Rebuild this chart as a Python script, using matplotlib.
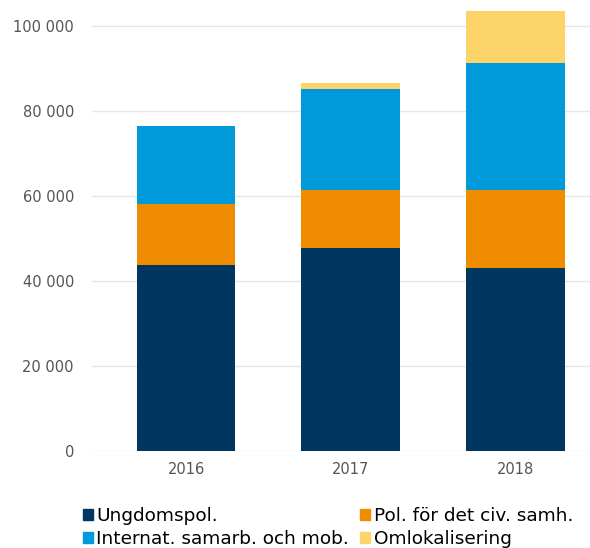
import numpy as np
import matplotlib.pyplot as plt
from matplotlib.patches import Patch

years = ['2016', '2017', '2018']
series_names = ['Ungdomspol.', 'Pol. för det civ. samh.',
                'Internat. samarb. och mob.', 'Omlokalisering']
ungdomspol = [43800, 47800, 43100]
civ_samh = [14300, 13600, 18300]
internat = [18400, 23600, 29700]
omlokalisering = [0, 1400, 12200]
colors = ['#00365f', '#f08c00', '#009ada', '#fdd46a']

fig = plt.figure(figsize=(5.9, 5.48), dpi=100)
ax = fig.add_axes([0.156, 0.177, 0.844, 0.823])

x = np.arange(len(years))
bottom = np.zeros(len(years))
for vals, col in zip([ungdomspol, civ_samh, internat, omlokalisering], colors):
    ax.bar(x, vals, width=0.6, bottom=bottom, color=col, zorder=3)
    bottom += np.array(vals)

ax.set_xlim(-0.57, 2.45)
ax.set_ylim(0, 106000)
ax.set_yticks(np.arange(0, 100001, 20000))
ax.set_yticklabels(['0' if v == 0 else f'{v // 1000} 000' for v in range(0, 100001, 20000)])
ax.set_xticks(x)
ax.set_xticklabels(years)
ax.tick_params(length=0, colors='#555555', labelsize=10.5, pad=8)
ax.tick_params(axis='y', pad=13)
ax.grid(axis='y', color='#e6e6e6', linewidth=1, zorder=0)
for s in ax.spines.values():
    s.set_visible(False)

# matplotlib fills legend column by column, reference reads row by row
order = [0, 2, 1, 3]
handles = [Patch(color=colors[i]) for i in order]
labels = [series_names[i] for i in order]
fig.legend(handles, labels, loc='lower left', bbox_to_anchor=(0.14, 0.0),
           ncol=2, frameon=False, fontsize=13.3, handlelength=0.55, handleheight=0.55,
           handletextpad=0.2, columnspacing=0.6, labelspacing=0.25,
           borderpad=0, borderaxespad=0)

fig.savefig('out.png', dpi=100)
